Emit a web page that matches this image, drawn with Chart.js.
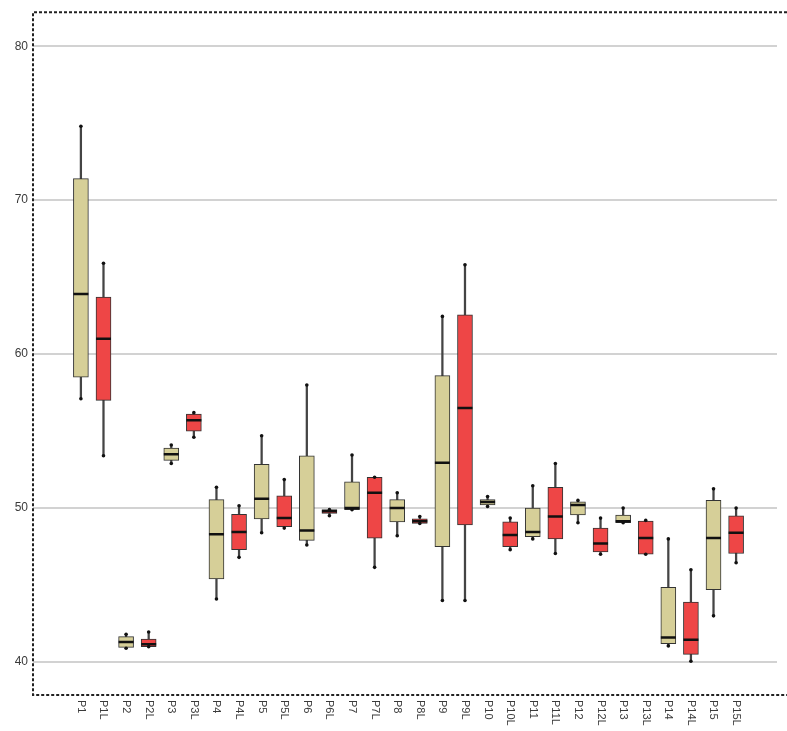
<!DOCTYPE html>
<html lang="en">
<head>
    <meta charset="UTF-8">
    <title>Box plots P1 - P15L</title>
    <style>
        body {
            margin: 0;
            padding: 0;
            background-color: #ffffff;
        }

        #wrap {
            position: relative;
            width: 787px;
            height: 731px;
        }
    </style>
    <script src="https://cdn.jsdelivr.net/npm/chart.js"></script>
</head>
<body>
    <div id="wrap">
        <canvas id="boxChart"></canvas>
    </div>

    <script>
        // categories and box statistics
        const categories = ['P1', 'P1L', 'P2', 'P2L', 'P3', 'P3L', 'P4', 'P4L', 'P5', 'P5L',
            'P6', 'P6L', 'P7', 'P7L', 'P8', 'P8L', 'P9', 'P9L', 'P10', 'P10L',
            'P11', 'P11L', 'P12', 'P12L', 'P13', 'P13L', 'P14', 'P14L', 'P15', 'P15L'];
        const whiskerLow = [57.1, 53.4, 40.9, 41.0, 52.9, 54.6, 44.1, 46.8, 48.4, 48.7,
            47.6, 49.5, 49.9, 46.15, 48.2, 49.0, 44.0, 44.0, 50.1, 47.3,
            48.0, 47.05, 49.05, 47.0, 49.05, 47.0, 41.05, 40.05, 43.0, 46.45];
        const q1 = [58.5, 57.0, 40.95, 41.0, 53.1, 55.0, 45.4, 47.3, 49.3, 48.8,
            47.9, 49.65, 49.9, 48.05, 49.1, 49.0, 47.5, 48.9, 50.2, 47.5,
            48.15, 48.0, 49.55, 47.15, 49.05, 47.0, 41.2, 40.5, 44.7, 47.05];
        const medians = [63.9, 61.0, 41.3, 41.15, 53.5, 55.7, 48.3, 48.45, 50.6, 49.35,
            48.55, 49.8, 50.0, 51.0, 50.0, 49.15, 52.95, 56.5, 50.4, 48.25,
            48.45, 49.45, 50.2, 47.7, 49.15, 48.05, 41.6, 41.45, 48.05, 48.4];
        const q3 = [71.4, 63.7, 41.65, 41.5, 53.9, 56.1, 50.55, 49.6, 52.85, 50.8,
            53.4, 49.9, 51.7, 52.0, 50.55, 49.3, 58.6, 62.55, 50.55, 49.1,
            50.0, 51.35, 50.4, 48.7, 49.55, 49.15, 44.85, 43.9, 50.5, 49.5];
        const whiskerHigh = [74.8, 65.9, 41.8, 41.95, 54.1, 56.2, 51.35, 50.15, 54.7, 51.85,
            58.0, 49.9, 53.45, 52.0, 51.0, 49.45, 62.45, 65.8, 50.75, 49.35,
            51.45, 52.9, 50.5, 49.35, 50.0, 49.2, 48.0, 46.0, 51.25, 50.0];
        const yTicks = [40, 50, 60, 70, 80];

        const tan = '#d6cf98';
        const red = '#ee4646';
        const boxColors = categories.map(c => c.endsWith('L') ? red : tan);

        const idx = categories.map((c, i) => i);

        // dashed frame on left, top and bottom, and labels turned clockwise
        const framePlugin = {
            id: 'framePlugin',
            afterDraw(chart) {
                const ctx = chart.ctx;
                const a = chart.chartArea;
                ctx.save();
                ctx.strokeStyle = '#222';
                ctx.lineWidth = 2;
                ctx.setLineDash([3, 2]);
                ctx.beginPath();
                ctx.moveTo(chart.width, a.top);
                ctx.lineTo(a.left, a.top);
                ctx.lineTo(a.left, a.bottom);
                ctx.lineTo(chart.width, a.bottom);
                ctx.stroke();
                ctx.setLineDash([]);

                const xs = chart.scales.x;
                ctx.fillStyle = '#3a3a3a';
                ctx.font = '11px "Liberation Sans", Arial, sans-serif';
                ctx.textAlign = 'left';
                ctx.textBaseline = 'middle';
                categories.forEach((c, i) => {
                    ctx.save();
                    ctx.translate(xs.getPixelForValue(i), a.bottom + 5);
                    ctx.rotate(Math.PI / 2);
                    ctx.fillText(c, 0, 0);
                    ctx.restore();
                });
                ctx.restore();
            }
        };

        const ctx = document.getElementById('boxChart').getContext('2d');
        const boxChart = new Chart(ctx, {
            type: 'bar',
            data: {
                datasets: [
                    {
                        label: 'whisker',
                        data: idx.map(i => ({ x: i, y: [whiskerLow[i], whiskerHigh[i]] })),
                        backgroundColor: '#444',
                        barThickness: 1.6,
                        grouped: false,
                        order: 4
                    },
                    {
                        label: 'box',
                        data: idx.map(i => ({ x: i, y: [q1[i], q3[i]] })),
                        backgroundColor: boxColors,
                        borderColor: '#333',
                        borderWidth: 1,
                        borderSkipped: false,
                        barThickness: 15,
                        grouped: false,
                        order: 3
                    },
                    {
                        type: 'line',
                        label: 'ends',
                        data: idx.flatMap(i => [{ x: i, y: whiskerLow[i] }, { x: i, y: whiskerHigh[i] }]),
                        showLine: false,
                        pointStyle: 'circle',
                        pointRadius: 1.8,
                        pointBackgroundColor: '#111',
                        pointBorderWidth: 0,
                        order: 2
                    },
                    {
                        type: 'line',
                        label: 'median',
                        data: idx.map(i => ({ x: i, y: medians[i] })),
                        showLine: false,
                        pointStyle: 'line',
                        pointRadius: 7.5,
                        borderColor: '#111',
                        pointBorderColor: '#111',
                        pointBorderWidth: 2.5,
                        order: 1
                    }
                ]
            },
            options: {
                responsive: true,
                maintainAspectRatio: false,
                animation: false,
                events: [],
                layout: {
                    padding: { top: 12, bottom: 36, left: 0, right: 0 }
                },
                plugins: {
                    legend: { display: false },
                    tooltip: { enabled: false }
                },
                scales: {
                    x: {
                        type: 'linear',
                        offset: false,
                        min: -2.12,
                        max: 30.81,
                        grid: { display: false },
                        border: { display: false },
                        ticks: { display: false },
                        afterFit(scale) { scale.height = 0; }
                    },
                    y: {
                        min: 37.86,
                        max: 82.21,
                        afterBuildTicks(scale) {
                            scale.ticks = yTicks.map(v => ({ value: v }));
                        },
                        afterFit(scale) { scale.width = 33; },
                        border: { display: false },
                        grid: {
                            color: '#d2d2d2',
                            lineWidth: 2,
                            drawTicks: false
                        },
                        ticks: {
                            padding: 5,
                            color: '#3a3a3a',
                            font: { size: 12, family: '"Liberation Sans", Arial, sans-serif' }
                        }
                    }
                }
            },
            plugins: [framePlugin]
        });
    </script>
</body>
</html>
